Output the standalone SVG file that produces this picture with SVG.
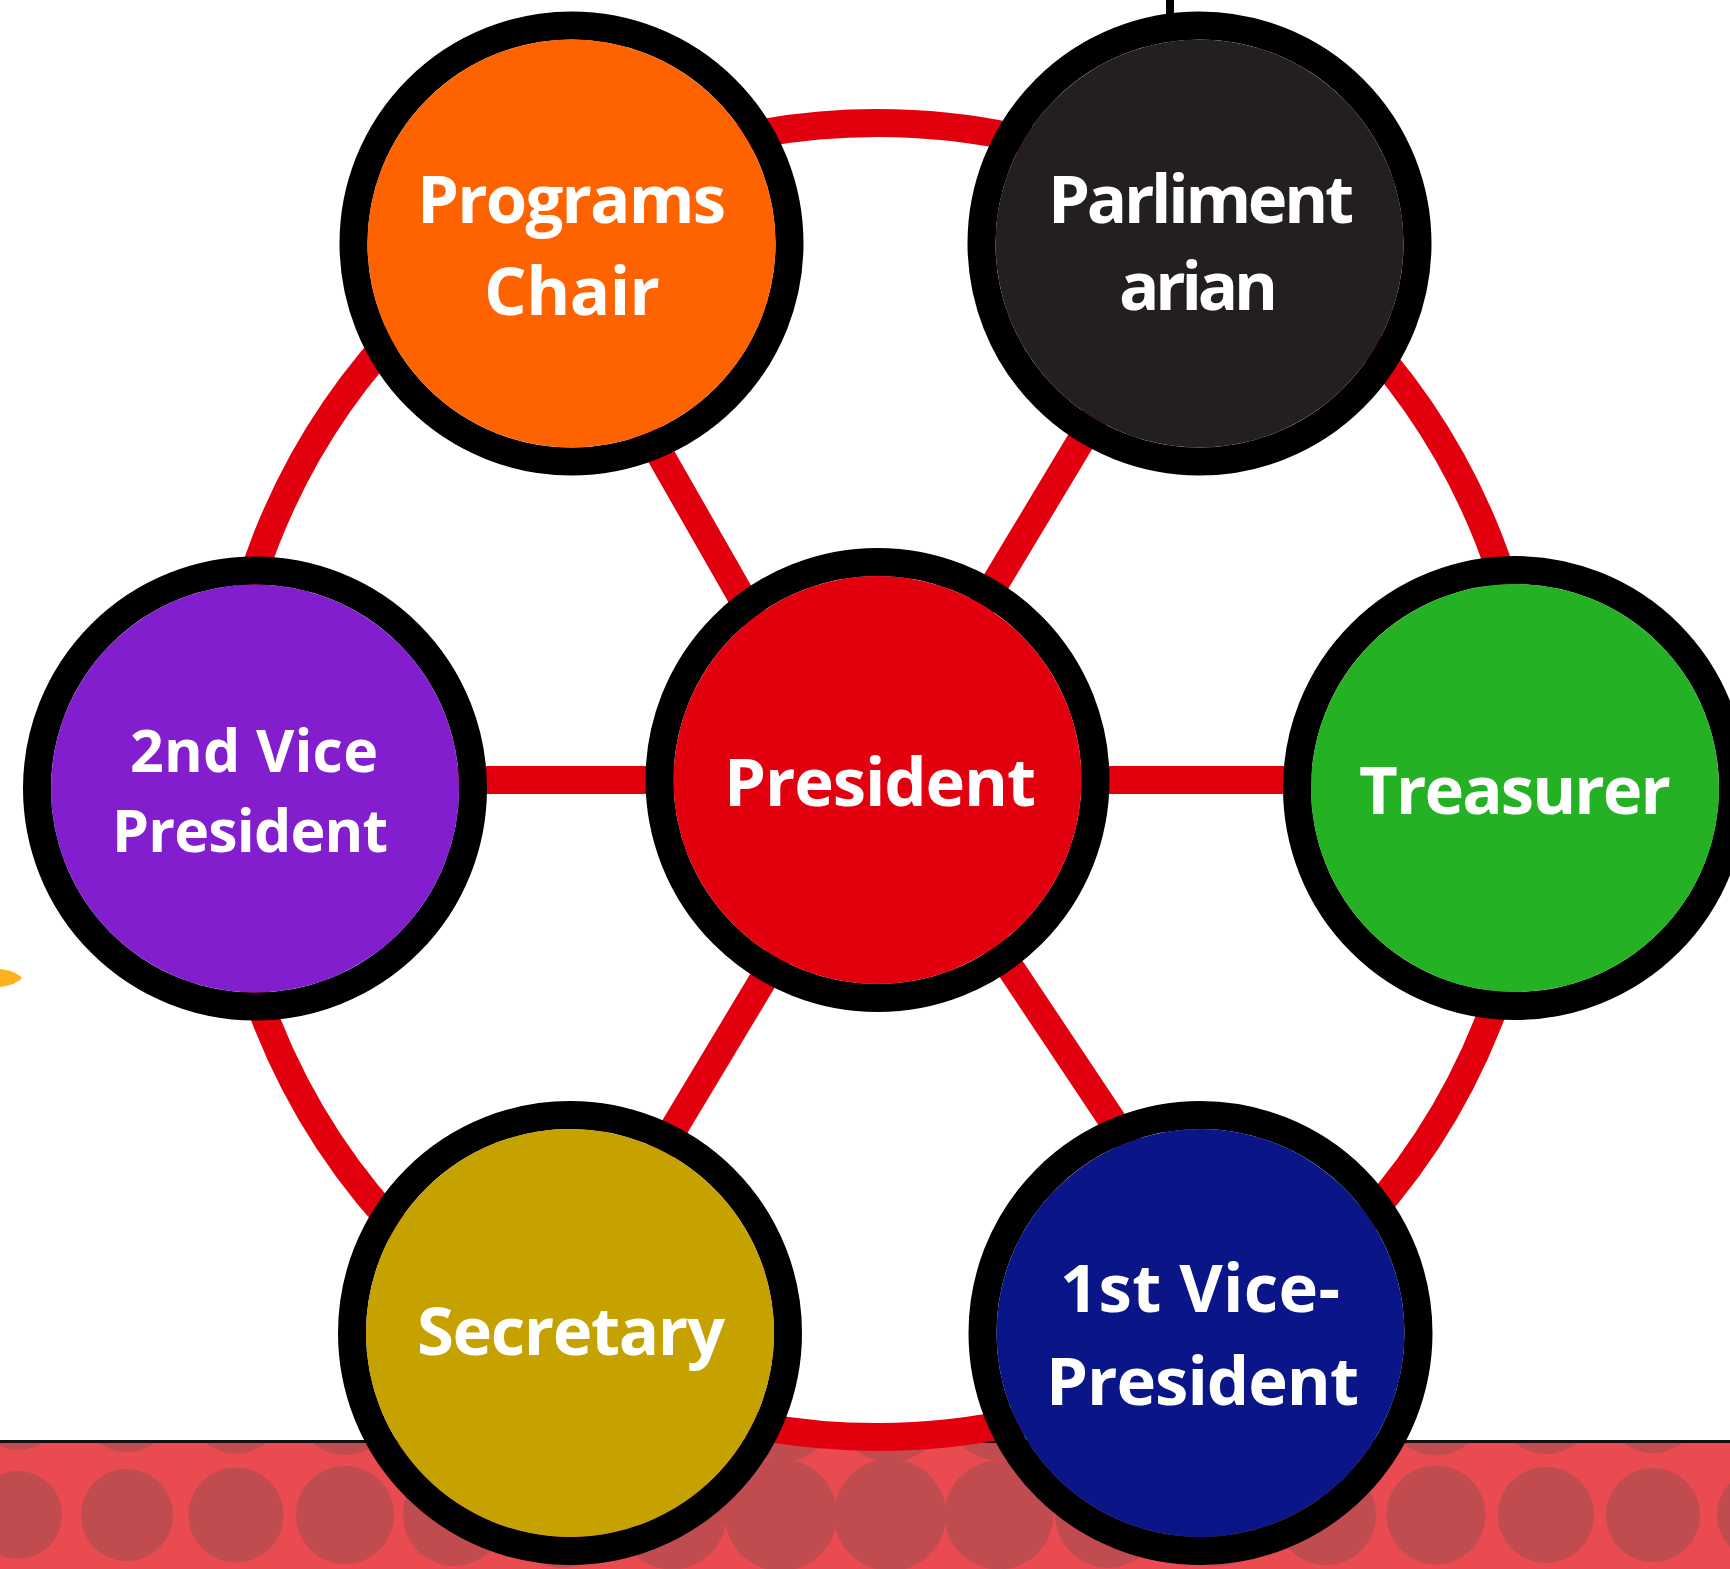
<svg xmlns="http://www.w3.org/2000/svg" width="1730" height="1569" viewBox="0 0 1730 1569">
<defs>
<style>
.ring{fill:none;stroke:#000;stroke-width:28}
.lbl{font-family:"Open Sans","Noto Sans","Liberation Sans",sans-serif;font-weight:700;fill:#fff;text-anchor:middle}
.spoke{stroke:#E3000E;stroke-width:28;fill:none}
.dot{fill:#C04C50}
</style>
<clipPath id="bandClip"><rect x="0" y="1443" width="1730" height="126"/></clipPath>
</defs>
<rect x="0" y="0" width="1730" height="1569" fill="#fff"/>
<g id="band">
<rect x="0" y="1441" width="1730" height="128" fill="#E94B51"/>
<g clip-path="url(#bandClip)">
<circle class="dot" cx="18" cy="1406" r="44"/><circle class="dot" cx="18" cy="1515" r="44"/>
<circle class="dot" cx="127" cy="1406" r="46"/><circle class="dot" cx="127" cy="1515" r="46"/>
<circle class="dot" cx="236" cy="1406" r="47.5"/><circle class="dot" cx="236" cy="1515" r="47.5"/>
<circle class="dot" cx="345" cy="1406" r="49"/><circle class="dot" cx="345" cy="1515" r="49"/>
<circle class="dot" cx="454" cy="1406" r="51"/><circle class="dot" cx="454" cy="1515" r="51"/>
<circle class="dot" cx="563" cy="1406" r="52.7"/><circle class="dot" cx="563" cy="1515" r="52.7"/>
<circle class="dot" cx="672" cy="1406" r="54.4"/><circle class="dot" cx="672" cy="1515" r="54.4"/>
<circle class="dot" cx="781" cy="1406" r="56"/><circle class="dot" cx="781" cy="1515" r="56"/>
<circle class="dot" cx="890" cy="1406" r="56"/><circle class="dot" cx="890" cy="1515" r="56"/>
<circle class="dot" cx="999" cy="1406" r="54.4"/><circle class="dot" cx="999" cy="1515" r="54.4"/>
<circle class="dot" cx="1108" cy="1406" r="52.7"/><circle class="dot" cx="1108" cy="1515" r="52.7"/>
<circle class="dot" cx="1217" cy="1406" r="51"/><circle class="dot" cx="1217" cy="1515" r="51"/>
<circle class="dot" cx="1326" cy="1406" r="50"/><circle class="dot" cx="1326" cy="1515" r="50"/>
<circle class="dot" cx="1436" cy="1406" r="49.5"/><circle class="dot" cx="1436" cy="1515" r="49.5"/>
<circle class="dot" cx="1546" cy="1406" r="48"/><circle class="dot" cx="1546" cy="1515" r="48"/>
<circle class="dot" cx="1653" cy="1406" r="47"/><circle class="dot" cx="1653" cy="1515" r="47"/>
<circle class="dot" cx="1762" cy="1406" r="45"/><circle class="dot" cx="1762" cy="1515" r="45"/>
</g>
<rect x="0" y="1440" width="1730" height="3" fill="#111"/>
</g>
<path d="M0,969 Q16,971 22,978 Q16,985 0,987 Z" fill="#FDB11C"/>
<rect x="1166" y="0" width="8" height="20" fill="#000"/>
<g id="connectors">
<circle cx="877.5" cy="780" r="657" class="spoke" stroke-width="29"/>
<line class="spoke" x1="255" y1="780" x2="1515" y2="780"/>
<line class="spoke" x1="540" y1="244" x2="846" y2="780"/>
<line class="spoke" x1="1199" y1="244" x2="877" y2="780"/>
<line class="spoke" x1="551" y1="1333" x2="883" y2="780"/>
<line class="spoke" x1="885" y1="780" x2="1254" y2="1333"/>
</g>
<g id="node-programs">
<circle cx="571.5" cy="243.5" r="218" fill="#FF6300" class="ring"/>
<circle cx="571.5" cy="243.5" r="204" fill="#FF6300"/>
<text class="lbl" x="571.5" y="223" font-size="67" textLength="309">Programs</text>
<text class="lbl" x="572" y="315" font-size="67" textLength="176">Chair</text>
</g>
<g id="node-parliamentarian">
<circle cx="1199.5" cy="243.5" r="218" class="ring"/>
<circle cx="1199.5" cy="243.5" r="204" fill="#231F20"/>
<text class="lbl" x="1201" y="223" font-size="67" textLength="306">Parliment</text>
<text class="lbl" x="1198.5" y="310" font-size="67" textLength="159">arian</text>
</g>
<g id="node-2nd-vp">
<circle cx="255" cy="788.5" r="218" class="ring"/>
<circle cx="255" cy="788.5" r="204" fill="#821ECE"/>
<text class="lbl" x="254" y="772" font-size="59" textLength="248">2nd Vice</text>
<text class="lbl" x="250" y="852" font-size="59" textLength="276">President</text>
</g>
<g id="node-president">
<circle cx="877.5" cy="780" r="218" class="ring"/>
<circle cx="877.5" cy="780" r="204" fill="#E3000E"/>
<text class="lbl" x="880" y="806" font-size="67" textLength="312">President</text>
</g>
<g id="node-treasurer">
<circle cx="1515" cy="788" r="218" class="ring"/>
<circle cx="1515" cy="788" r="204" fill="#24B224"/>
<text class="lbl" x="1515" y="814" font-size="67" textLength="312">Treasurer</text>
</g>
<g id="node-secretary">
<circle cx="570" cy="1333" r="218" class="ring"/>
<circle cx="570" cy="1333" r="204" fill="#C6A200"/>
<text class="lbl" x="571" y="1355" font-size="67" textLength="308">Secretary</text>
</g>
<g id="node-1st-vp">
<circle cx="1200.5" cy="1333" r="218" class="ring"/>
<circle cx="1200.5" cy="1333" r="204" fill="#0A1588"/>
<text class="lbl" x="1200" y="1312" font-size="67" textLength="280">1st Vice-</text>
<text class="lbl" x="1202.5" y="1405" font-size="67" textLength="313">President</text>
</g>
</svg>
